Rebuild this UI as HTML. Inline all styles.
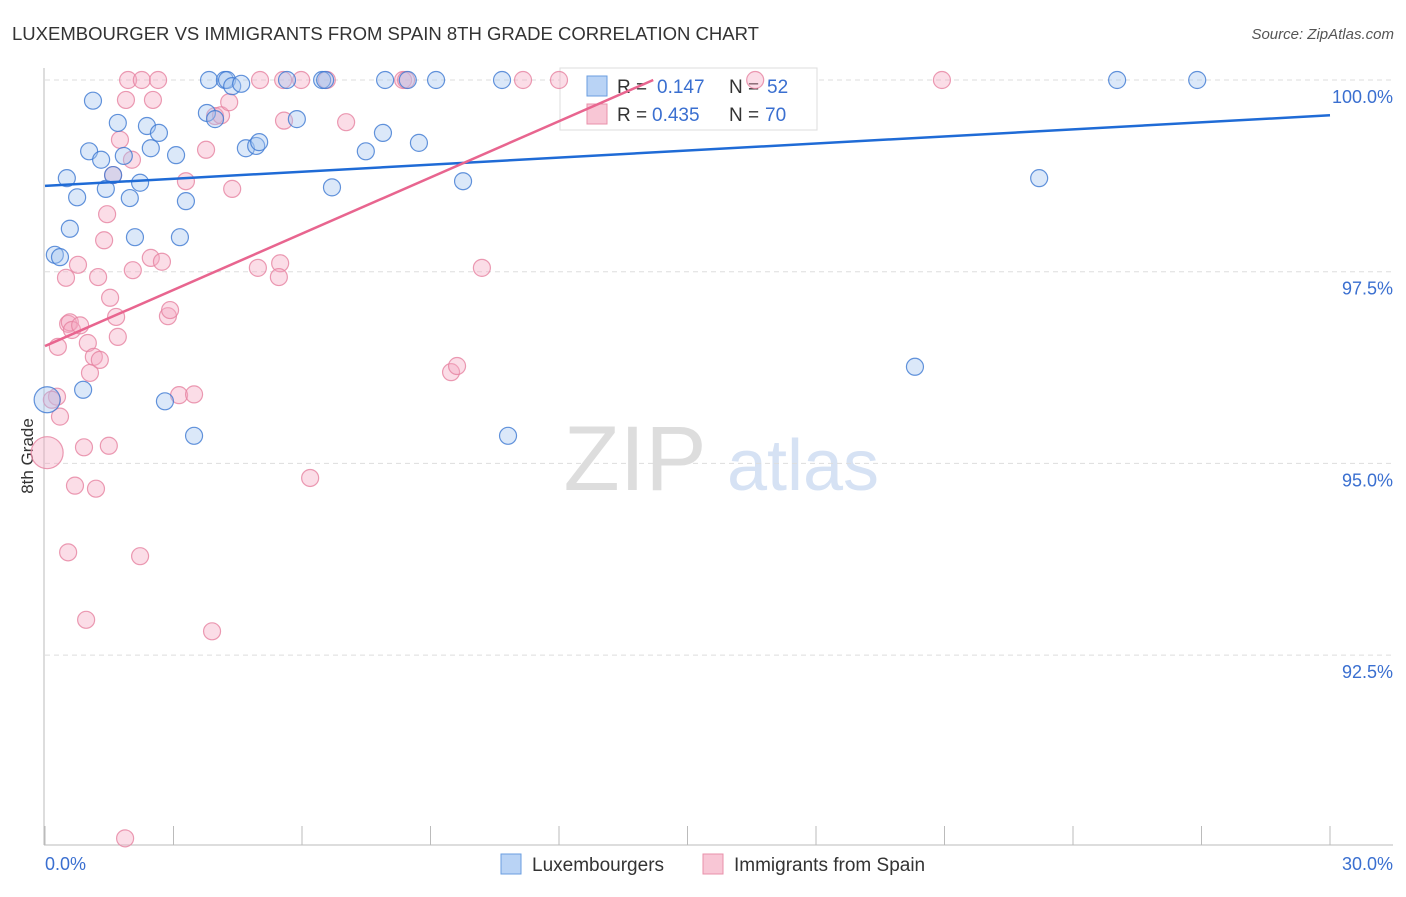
<!DOCTYPE html>
<html><head><meta charset="utf-8"><style>
body{margin:0;background:#fff;font-family:"Liberation Sans",sans-serif;}
svg text{font-family:"Liberation Sans",sans-serif;}
</style></head><body>
<svg id="chart" width="1406" height="892" xmlns="http://www.w3.org/2000/svg">
<text x="12" y="40" font-size="18" fill="#333" textLength="747" lengthAdjust="spacingAndGlyphs">LUXEMBOURGER VS IMMIGRANTS FROM SPAIN 8TH GRADE CORRELATION CHART</text>
<text x="1394" y="39" font-size="15" fill="#555" text-anchor="end" font-style="italic">Source: ZipAtlas.com</text>
<text x="33" y="456" font-size="17" fill="#333" text-anchor="middle" transform="rotate(-90 33 456)">8th Grade</text>
<g><text x="635" y="490" font-size="92" fill="#ddd" font-family="Liberation Serif" text-anchor="middle">ZIP</text><text x="803" y="490" font-size="72" fill="#d6e2f4" text-anchor="middle">atlas</text></g>
<g id="grid"></g>
<g id="axes"></g>
<g>
<rect x="560" y="68" width="257" height="62" fill="#fff" stroke="#ddd"/>
<rect x="587" y="76" width="20" height="20" fill="#b9d3f5" stroke="#6a9ee0"/>
<text x="617" y="93" font-size="19" fill="#333">R = </text><text x="657" y="93" font-size="19" fill="#3a6fd0">0.147</text>
<text x="729" y="93" font-size="19" fill="#333">N = </text><text x="767" y="93" font-size="19" fill="#3a6fd0">52</text>
<rect x="587" y="104" width="20" height="20" fill="#f8c6d5" stroke="#e890aa"/>
<text x="617" y="121" font-size="19" fill="#333">R = </text><text x="652" y="121" font-size="19" fill="#3a6fd0">0.435</text>
<text x="729" y="121" font-size="19" fill="#333">N = </text><text x="765" y="121" font-size="19" fill="#3a6fd0">70</text>
</g>
<g id="marks"></g>
<g>
<rect x="501" y="854" width="20" height="20" fill="#b9d3f5" stroke="#6a9ee0"/>
<text x="532" y="871" font-size="19" fill="#333">Luxembourgers</text>
<rect x="703" y="854" width="20" height="20" fill="#f8c6d5" stroke="#e890aa"/>
<text x="734" y="871" font-size="19" fill="#333">Immigrants from Spain</text>
</g>
</svg>
<script>
const blueX=[0.51,0.75,1.12,1.03,1.31,1.42,1.59,1.70,1.84,1.98,2.10,2.22,2.38,2.47,2.66,3.06,3.29,3.15,3.78,3.83,3.97,4.20,4.25,4.37,4.58,4.69,4.93,5.00,5.65,5.88,6.47,6.54,6.70,7.49,7.89,7.94,8.47,8.73,9.13,9.76,10.67,10.81,0.58,0.23,0.35,0.89,2.80,3.48,20.31,23.21,25.03,26.90,0.05];
const blueY=[98.72,98.47,99.73,99.07,98.96,98.58,98.76,99.44,99.01,98.46,97.95,98.66,99.40,99.11,99.31,99.02,98.42,97.95,99.57,100,99.49,100,100,99.92,99.95,99.11,99.14,99.19,100,99.49,100,100,98.60,99.07,99.31,100,100,99.18,100,98.68,100,95.36,98.06,97.72,97.69,95.96,95.81,95.36,96.26,98.72,100,100,95.83];
const pinkX=[0.54,0.77,0.49,0.58,0.63,0.82,1.00,1.05,1.14,1.24,1.28,1.38,1.45,1.52,1.59,1.66,1.70,1.75,1.89,1.94,2.03,2.05,2.26,2.47,2.52,2.64,2.73,2.87,2.92,3.13,3.29,3.48,3.76,3.97,4.11,4.30,4.37,4.97,5.02,5.49,5.46,5.56,5.58,5.98,6.58,7.03,8.36,8.43,9.48,9.62,10.20,11.16,12.00,16.58,20.94,6.19,0.28,0.16,0.35,0.91,1.49,0.70,1.19,0.54,2.22,0.96,3.90,1.87,0.05,0.30];
const pinkY=[96.82,97.59,97.42,96.84,96.74,96.80,96.57,96.18,96.39,97.43,96.35,97.91,98.25,97.16,98.76,96.91,96.65,99.22,99.74,100,98.96,97.52,100,97.68,99.74,100,97.63,96.92,97.00,95.89,98.68,95.90,99.09,99.53,99.54,99.71,98.58,97.55,100,97.61,97.43,100,99.47,100,100,99.45,100,100,96.19,96.27,97.55,100,100,100,100,94.81,95.87,95.83,95.61,95.21,95.23,94.71,94.67,93.84,93.79,92.96,92.81,90.11,95.14,96.52];
const bigBlue=[52]; const bigPink=[68];
const blueTrend=[[0,98.62],[30,99.54]];
const pinkTrend=[[0,96.53],[14.2,100]];
const yTicks=[100,97.5,95,92.5];
const yTickLabels=["100.0%","97.5%","95.0%","92.5%"];
const xTicks=[0,3,6,9,12,15,18,21,24,27,30];

const X0=45,X1=1330,Y100=80,PX25=191.7;
const sx=v=>X0+(v/30)*(X1-X0);
const sy=v=>Y100+(100-v)/2.5*PX25;
const NS="http://www.w3.org/2000/svg";
function mk(t,a,p){const e=document.createElementNS(NS,t);for(const k in a)e.setAttribute(k,a[k]);p.appendChild(e);return e;}
const grid=document.getElementById('grid'),axes=document.getElementById('axes'),marks=document.getElementById('marks');
yTicks.forEach((v,i)=>{
 const l=mk('line',{x1:X0,x2:1393,y1:sy(v),y2:sy(v),stroke:'#ddd','stroke-dasharray':'5,4'},grid);
 
 
 const t=mk('text',{x:1393,y:sy(v)+23,'font-size':18,fill:'#3a6fd0','text-anchor':'end'},axes);
 t.textContent=yTickLabels[i];
 
 
});
mk('line',{x1:44,x2:44,y1:68,y2:845,stroke:'#bbb'},axes);
mk('line',{x1:44,x2:1393,y1:845,y2:845,stroke:'#bbb'},axes);
xTicks.forEach(v=>{const l=mk('line',{x1:sx(v),x2:sx(v),y1:826,y2:845,stroke:'#bbb'},axes);
 
 });
let t1=mk('text',{x:45,y:870,'font-size':18,fill:'#3a6fd0'},axes);t1.textContent='0.0%';


let t2=mk('text',{x:1393,y:870,'font-size':18,fill:'#3a6fd0','text-anchor':'end'},axes);t2.textContent='30.0%';



pinkX.forEach((v,i)=>{const c=mk('circle',{cx:sx(v),cy:sy(pinkY[i]),r:bigPink.includes(i)?16:8.5,fill:'rgba(245,170,195,0.4)',stroke:'rgba(230,130,160,0.8)','stroke-width':1.2},marks);
 
 });
blueX.forEach((v,i)=>{const c=mk('circle',{cx:sx(v),cy:sy(blueY[i]),r:bigBlue.includes(i)?13:8.5,fill:'rgba(165,198,240,0.4)',stroke:'rgba(60,120,210,0.8)','stroke-width':1.2},marks);
 
 });
const bl=mk('line',{x1:sx(blueTrend[0][0]),y1:sy(blueTrend[0][1]),x2:sx(blueTrend[1][0]),y2:sy(blueTrend[1][1]),stroke:'#1f6bd6','stroke-width':2.5},marks);


const pl=mk('line',{x1:sx(pinkTrend[0][0]),y1:sy(pinkTrend[0][1]),x2:sx(pinkTrend[1][0]),y2:sy(pinkTrend[1][1]),stroke:'#e8658f','stroke-width':2.5},marks);


</script>
</body></html>
